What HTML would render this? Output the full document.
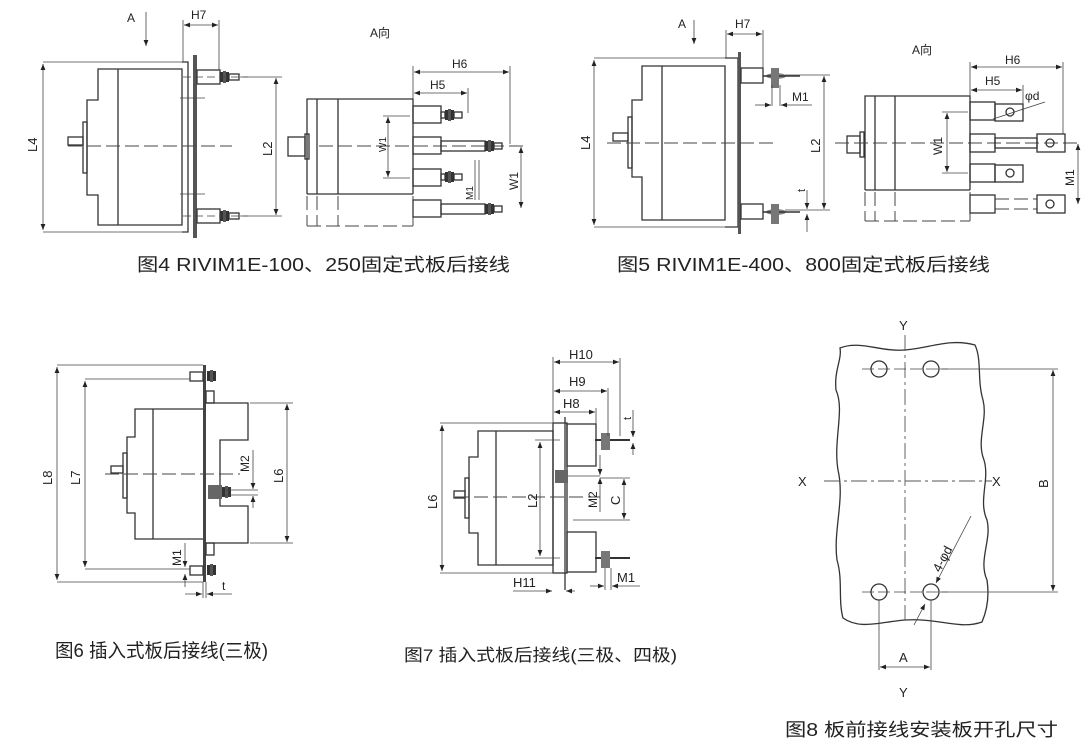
<!DOCTYPE html>
<html><head><meta charset="utf-8"><style>
html,body{margin:0;padding:0;background:#fff}
svg{display:block}
text{font-family:"Liberation Sans","Noto Sans CJK SC",sans-serif;fill:#222}
.l{stroke:#333;stroke-width:1.3;fill:none}
.t{stroke:#444;stroke-width:0.8;fill:none}
.d{stroke:#444;stroke-width:1;fill:none;stroke-dasharray:14 5}
.c{stroke:#555;stroke-width:0.9;fill:none;stroke-dasharray:16 4 3 4}
</style></head><body>
<svg width="1090" height="746" viewBox="0 0 1090 746" xmlns="http://www.w3.org/2000/svg">
<defs>
<marker id="a" viewBox="0 0 10 10" refX="10" refY="5" markerWidth="9" markerHeight="6" orient="auto-start-reverse" markerUnits="userSpaceOnUse"><path d="M0,1 L10,5 L0,9 z" fill="#222"/></marker>
<g id="nut"><rect x="0" y="-5" width="3" height="10" fill="#333"/><rect x="3" y="-6" width="3" height="12" fill="#555"/><rect x="6" y="-5" width="3" height="10" fill="#333"/></g>
</defs>

<!-- ================= FIG 4 left ================= -->
<text x="127" y="22" font-size="12">A</text>
<line x1="146" y1="12" x2="146" y2="46" class="t" marker-end="url(#a)"/>
<path class="l" d="M98,69 H182 V225 H98 V195 H87 V100 H98 Z"/>
<line class="l" x1="118" y1="69" x2="118" y2="225"/>
<rect class="l" x="83" y="122" width="4" height="51"/>
<rect class="l" x="68" y="137" width="15" height="8"/>
<path class="l" d="M182,62 H188 V232 H182"/>
<rect x="193" y="55" width="4" height="183" fill="#555"/>
<line class="d" x1="68" y1="146" x2="232" y2="146"/>
<rect class="l" x="197" y="70" width="23" height="14"/><use href="#nut" x="220" y="77"/><rect class="l" x="229" y="74" width="10" height="6"/>
<rect class="l" x="197" y="209" width="23" height="14"/><use href="#nut" x="220" y="216"/><rect class="l" x="229" y="213" width="10" height="6"/>
<line class="t" x1="183" y1="77" x2="248" y2="77" stroke-dasharray="8 4"/>
<line class="t" x1="183" y1="216" x2="248" y2="216" stroke-dasharray="8 4"/>
<line class="t" x1="180" y1="98" x2="205" y2="98"/><line class="t" x1="180" y1="194" x2="205" y2="194"/>
<line class="t" x1="43" y1="62" x2="182" y2="62"/><line class="t" x1="43" y1="232" x2="182" y2="232"/>
<line class="t" x1="43" y1="64" x2="43" y2="230" marker-start="url(#a)" marker-end="url(#a)"/>
<text x="0" y="0" font-size="13" transform="translate(37,152) rotate(-90)">L4</text>
<line class="t" x1="183" y1="20" x2="183" y2="62"/><line class="t" x1="219" y1="20" x2="219" y2="70"/>
<line class="t" x1="184" y1="25" x2="218" y2="25" marker-start="url(#a)" marker-end="url(#a)"/>
<text x="191" y="19" font-size="12">H7</text>
<line class="t" x1="240" y1="77" x2="282" y2="77"/><line class="t" x1="240" y1="216" x2="282" y2="216"/>
<line class="t" x1="276" y1="78" x2="276" y2="215" marker-start="url(#a)" marker-end="url(#a)"/>
<text x="0" y="0" font-size="13" transform="translate(272,156) rotate(-90)">L2</text>

<!-- FIG 4 right (A向) -->
<text x="370" y="37" font-size="12">A向</text>
<path class="l" d="M307,194 V99 H413 V194"/>
<line class="l" x1="307" y1="194" x2="413" y2="194"/>
<line class="l" x1="317" y1="99" x2="317" y2="194"/><line class="l" x1="338" y1="99" x2="338" y2="194"/>
<line class="d" x1="307" y1="196" x2="307" y2="226"/><line class="d" x1="317" y1="196" x2="317" y2="226"/><line class="d" x1="338" y1="196" x2="338" y2="226"/><line class="d" x1="413" y1="196" x2="413" y2="226"/>
<line class="d" x1="307" y1="226" x2="413" y2="226"/>
<rect class="l" x="288" y="137" width="17" height="19"/><rect class="l" x="305" y="134" width="4" height="25"/>
<line class="d" x1="319" y1="146" x2="528" y2="146"/>
<g>
<rect class="l" x="413" y="106" width="28" height="17"/><use href="#nut" x="445" y="115"/><rect class="l" x="441" y="112" width="4" height="6"/><rect class="l" x="454" y="112" width="8" height="6"/>
<rect class="l" x="413" y="137" width="28" height="17"/><rect class="l" x="441" y="141" width="44" height="10"/><use href="#nut" x="485" y="146"/><rect class="l" x="494" y="143" width="8" height="6"/>
<rect class="l" x="413" y="169" width="28" height="17"/><use href="#nut" x="445" y="177"/><rect class="l" x="441" y="174" width="4" height="6"/><rect class="l" x="454" y="174" width="8" height="6"/>
<rect class="l" x="413" y="200" width="28" height="17"/><rect class="l" x="441" y="204" width="44" height="10"/><use href="#nut" x="485" y="209"/><rect class="l" x="494" y="206" width="8" height="6"/>
</g>
<line class="t" x1="413" y1="66" x2="413" y2="99"/><line class="t" x1="510" y1="66" x2="510" y2="144"/><line class="t" x1="468" y1="88" x2="468" y2="113"/>
<line class="t" x1="414" y1="72" x2="509" y2="72" marker-start="url(#a)" marker-end="url(#a)"/>
<text x="452" y="68" font-size="12">H6</text>
<line class="t" x1="414" y1="93" x2="467" y2="93" marker-start="url(#a)" marker-end="url(#a)"/>
<text x="430" y="89" font-size="12">H5</text>
<line class="t" x1="383" y1="116" x2="410" y2="116"/><line class="t" x1="383" y1="178" x2="410" y2="178"/>
<line class="t" x1="388" y1="117" x2="388" y2="177" marker-start="url(#a)" marker-end="url(#a)"/>
<text x="0" y="0" font-size="10" transform="translate(386,152) rotate(-90)">W1</text>
<line class="t" x1="475" y1="160" x2="475" y2="200"/><line class="t" x1="479" y1="160" x2="479" y2="200"/>
<text x="0" y="0" font-size="10" transform="translate(473,200) rotate(-90)">M1</text>
<line class="t" x1="521" y1="147" x2="521" y2="208" marker-start="url(#a)" marker-end="url(#a)"/>
<text x="0" y="0" font-size="12" transform="translate(518,190) rotate(-90)">W1</text>
<text x="137" y="271" font-size="18" textLength="373" lengthAdjust="spacingAndGlyphs">图4 RIVIM1E-100、250固定式板后接线</text>

<!-- ================= FIG 5 left ================= -->
<text x="678" y="28" font-size="12">A</text>
<line x1="694" y1="20" x2="694" y2="44" class="t" marker-end="url(#a)"/>
<path class="l" d="M642,66 H725 V220 H642 V177 H632 V100 H642 Z"/>
<line class="l" x1="662" y1="66" x2="662" y2="220"/>
<rect class="l" x="628" y="117" width="4" height="51"/>
<rect class="l" x="613" y="133" width="15" height="8"/>
<path class="l" d="M725,58 H738 V227 H725"/>
<rect x="738" y="52" width="3" height="182" fill="#555"/>
<line class="d" x1="607" y1="143" x2="775" y2="143"/>
<rect class="l" x="741" y="68" width="22" height="15"/><rect class="l" x="741" y="204" width="22" height="15"/>
<ellipse cx="776" cy="76" rx="10" ry="3" fill="#888"/><line x1="763" y1="76" x2="800" y2="76" stroke="#333" stroke-width="1.5"/><rect x="771" y="68" width="8" height="20" fill="#777"/>
<ellipse cx="776" cy="212" rx="10" ry="3" fill="#888"/><line x1="763" y1="212" x2="800" y2="212" stroke="#333" stroke-width="1.5"/><rect x="771" y="204" width="8" height="20" fill="#777"/>
<line class="t" x1="594" y1="58" x2="725" y2="58"/><line class="t" x1="594" y1="227" x2="725" y2="227"/>
<line class="t" x1="594" y1="60" x2="594" y2="225" marker-start="url(#a)" marker-end="url(#a)"/>
<text x="0" y="0" font-size="13" transform="translate(590,150) rotate(-90)">L4</text>
<line class="t" x1="726" y1="30" x2="726" y2="58"/><line class="t" x1="763" y1="30" x2="763" y2="68"/>
<line class="t" x1="727" y1="34" x2="762" y2="34" marker-start="url(#a)" marker-end="url(#a)"/>
<text x="735" y="28" font-size="12">H7</text>
<line class="t" x1="785" y1="75" x2="830" y2="75"/><line class="t" x1="785" y1="210" x2="830" y2="210"/>
<line class="t" x1="824" y1="76" x2="824" y2="209" marker-start="url(#a)" marker-end="url(#a)"/>
<text x="0" y="0" font-size="13" transform="translate(820,153) rotate(-90)">L2</text>
<line class="t" x1="772" y1="85" x2="772" y2="106"/><line class="t" x1="780" y1="85" x2="780" y2="106"/>
<line class="t" x1="755" y1="105" x2="771" y2="105" marker-end="url(#a)"/><line class="t" x1="781" y1="105" x2="812" y2="105" marker-start="url(#a)"/>
<text x="792" y="101" font-size="12">M1</text>
<line class="t" x1="807" y1="190" x2="807" y2="209" marker-end="url(#a)"/><line class="t" x1="807" y1="214" x2="807" y2="232" marker-start="url(#a)"/>
<text x="0" y="0" font-size="11" transform="translate(805,192) rotate(-90)">t</text>

<!-- FIG 5 right -->
<text x="912" y="54" font-size="12">A向</text>
<path class="l" d="M865,190 V96 H970 V190"/>
<line class="l" x1="865" y1="190" x2="970" y2="190"/>
<line class="l" x1="875" y1="96" x2="875" y2="190"/><line class="l" x1="895" y1="96" x2="895" y2="190"/>
<line class="d" x1="865" y1="192" x2="865" y2="221"/><line class="d" x1="875" y1="192" x2="875" y2="221"/><line class="d" x1="895" y1="192" x2="895" y2="221"/><line class="d" x1="970" y1="192" x2="970" y2="221"/>
<line class="d" x1="865" y1="221" x2="970" y2="221"/>
<rect class="l" x="847" y="136" width="13" height="17"/><rect class="l" x="860" y="132" width="4" height="25"/>
<line class="d" x1="835" y1="143" x2="1080" y2="143"/>
<rect class="l" x="970" y="102" width="25" height="18"/><rect class="l" x="995" y="104" width="28" height="17"/><circle class="l" cx="1010" cy="112" r="4"/>
<rect class="l" x="970" y="134" width="25" height="18"/><rect class="l" x="995" y="138" width="42" height="10"/><rect class="l" x="1037" y="134" width="28" height="18"/><circle class="l" cx="1050" cy="143" r="4"/>
<rect class="l" x="970" y="164" width="25" height="18"/><rect class="l" x="995" y="165" width="28" height="17"/><circle class="l" cx="1010" cy="173" r="4"/>
<rect class="l" x="970" y="195" width="25" height="18"/><line class="d" x1="995" y1="199" x2="1037" y2="199"/><line class="d" x1="995" y1="209" x2="1037" y2="209"/><rect class="l" x="1037" y="195" width="28" height="18"/><circle class="l" cx="1050" cy="204" r="4"/>
<line class="t" x1="970" y1="62" x2="970" y2="96"/><line class="t" x1="1063" y1="62" x2="1063" y2="134"/><line class="t" x1="1023" y1="85" x2="1023" y2="104"/>
<line class="t" x1="971" y1="67" x2="1062" y2="67" marker-start="url(#a)" marker-end="url(#a)"/>
<text x="1005" y="64" font-size="12">H6</text>
<line class="t" x1="971" y1="90" x2="1022" y2="90" marker-start="url(#a)" marker-end="url(#a)"/>
<text x="985" y="85" font-size="12">H5</text>
<line class="t" x1="993" y1="119" x2="1045" y2="102"/><text x="1025" y="100" font-size="12">φd</text>
<line class="t" x1="942" y1="112" x2="968" y2="112"/><line class="t" x1="942" y1="173" x2="968" y2="173"/>
<line class="t" x1="947" y1="113" x2="947" y2="172" marker-start="url(#a)" marker-end="url(#a)"/>
<text x="0" y="0" font-size="12" transform="translate(942,155) rotate(-90)">W1</text>
<line class="t" x1="1078" y1="144" x2="1078" y2="204" marker-start="url(#a)" marker-end="url(#a)"/>
<text x="0" y="0" font-size="12" transform="translate(1074,186) rotate(-90)">M1</text>
<text x="617" y="271" font-size="18" textLength="373" lengthAdjust="spacingAndGlyphs">图5 RIVIM1E-400、800固定式板后接线</text>

<!-- ================= FIG 6 ================= -->
<path class="l" d="M135,409 H205 V539 H135 V513 H127 V437 H135 Z"/>
<line class="l" x1="153" y1="409" x2="153" y2="539"/>
<rect class="l" x="123" y="453" width="4" height="45"/>
<rect class="l" x="111" y="466" width="12" height="7"/>
<rect x="203" y="365" width="3" height="217" fill="#444"/>
<path class="l" d="M206,403 H248 V440 H220 V506 H248 V543 H206"/>
<rect class="l" x="206" y="391" width="8" height="12"/><rect class="l" x="206" y="543" width="8" height="12"/>
<rect class="l" x="190" y="372" width="13" height="9"/><use href="#nut" x="207" y="376"/>
<rect class="l" x="190" y="566" width="13" height="9"/><use href="#nut" x="207" y="570"/>
<rect x="208" y="485" width="14" height="14" fill="#666"/><use href="#nut" x="222" y="492"/>
<line class="d" x1="105" y1="474" x2="240" y2="474"/>
<line class="t" x1="57" y1="365" x2="203" y2="365"/><line class="t" x1="57" y1="582" x2="203" y2="582"/>
<line class="t" x1="57" y1="367" x2="57" y2="580" marker-start="url(#a)" marker-end="url(#a)"/>
<text x="0" y="0" font-size="13" transform="translate(52,485) rotate(-90)">L8</text>
<line class="t" x1="85" y1="379" x2="190" y2="379"/><line class="t" x1="85" y1="569" x2="190" y2="569"/>
<line class="t" x1="85" y1="381" x2="85" y2="567" marker-start="url(#a)" marker-end="url(#a)"/>
<text x="0" y="0" font-size="13" transform="translate(80,485) rotate(-90)">L7</text>
<line class="t" x1="250" y1="403" x2="293" y2="403"/><line class="t" x1="250" y1="543" x2="293" y2="543"/>
<line class="t" x1="287" y1="404" x2="287" y2="542" marker-start="url(#a)" marker-end="url(#a)"/>
<text x="0" y="0" font-size="13" transform="translate(283,483) rotate(-90)">L6</text>
<line class="t" x1="225" y1="490" x2="258" y2="490"/><line class="t" x1="225" y1="495" x2="258" y2="495"/>
<line class="t" x1="253" y1="450" x2="253" y2="489" marker-end="url(#a)"/><line class="t" x1="253" y1="496" x2="253" y2="508" marker-start="url(#a)"/>
<text x="0" y="0" font-size="12" transform="translate(249,472) rotate(-90)">M2</text>
<line class="t" x1="185" y1="543" x2="185" y2="567" marker-end="url(#a)"/><line class="t" x1="185" y1="574" x2="185" y2="587" marker-start="url(#a)"/>
<text x="0" y="0" font-size="12" transform="translate(181,566) rotate(-90)">M1</text>
<line class="t" x1="203" y1="582" x2="203" y2="598"/><line class="t" x1="206" y1="582" x2="206" y2="598"/>
<line class="t" x1="185" y1="594" x2="202" y2="594" marker-end="url(#a)"/><line class="t" x1="207" y1="594" x2="232" y2="594" marker-start="url(#a)"/>
<text x="222" y="590" font-size="12">t</text>
<text x="55" y="657" font-size="19" textLength="213" lengthAdjust="spacingAndGlyphs">图6 插入式板后接线(三极)</text>

<!-- ================= FIG 7 ================= -->
<path class="l" d="M478,431 H553 V565 H478 V533 H469 V457 H478 Z"/>
<line class="l" x1="496" y1="431" x2="496" y2="565"/>
<rect class="l" x="465" y="478" width="4" height="40"/>
<rect class="l" x="454" y="491" width="11" height="7"/>
<rect class="l" x="553" y="423" width="14" height="150"/>
<line class="l" x1="565" y1="417" x2="565" y2="590"/>
<rect class="l" x="567" y="424" width="29" height="42"/>
<rect class="l" x="567" y="532" width="29" height="40"/>
<line x1="595" y1="440" x2="630" y2="440" stroke="#333" stroke-width="2"/><rect x="601" y="433" width="9" height="17" fill="#777"/>
<line x1="595" y1="558" x2="630" y2="558" stroke="#333" stroke-width="2"/><rect x="601" y="551" width="9" height="17" fill="#777"/>
<rect x="555" y="470" width="13" height="13" fill="#666"/><line class="t" x1="568" y1="476" x2="600" y2="476"/>
<line class="d" x1="455" y1="497" x2="600" y2="497"/>
<line class="t" x1="440" y1="423" x2="553" y2="423"/><line class="t" x1="440" y1="573" x2="553" y2="573"/>
<line class="t" x1="442" y1="425" x2="442" y2="571" marker-start="url(#a)" marker-end="url(#a)"/>
<text x="0" y="0" font-size="13" transform="translate(437,509) rotate(-90)">L6</text>
<line class="t" x1="535" y1="440" x2="560" y2="440"/><line class="t" x1="535" y1="558" x2="560" y2="558"/>
<line class="t" x1="540" y1="442" x2="540" y2="556" marker-start="url(#a)" marker-end="url(#a)"/>
<text x="0" y="0" font-size="13" transform="translate(537,508) rotate(-90)">L2</text>
<line class="t" x1="553" y1="357" x2="553" y2="423"/>
<line class="t" x1="596" y1="408" x2="596" y2="424"/><line class="t" x1="608" y1="388" x2="608" y2="436"/><line class="t" x1="620" y1="358" x2="620" y2="436"/>
<line class="t" x1="554" y1="362" x2="619" y2="362" marker-start="url(#a)" marker-end="url(#a)"/><text x="569" y="359" font-size="13">H10</text>
<line class="t" x1="554" y1="391" x2="607" y2="391" marker-start="url(#a)" marker-end="url(#a)"/><text x="569" y="386" font-size="13">H9</text>
<line class="t" x1="554" y1="412" x2="595" y2="412" marker-start="url(#a)" marker-end="url(#a)"/><text x="563" y="408" font-size="13">H8</text>
<line class="t" x1="633" y1="410" x2="633" y2="437" marker-end="url(#a)"/><line class="t" x1="633" y1="443" x2="633" y2="455" marker-start="url(#a)"/>
<text x="0" y="0" font-size="11" transform="translate(631,420) rotate(-90)">t</text>
<line class="t" x1="600" y1="455" x2="600" y2="475" marker-end="url(#a)"/><line class="t" x1="600" y1="478" x2="600" y2="512" marker-start="url(#a)"/>
<text x="0" y="0" font-size="12" transform="translate(597,508) rotate(-90)">M2</text>
<line class="t" x1="600" y1="478" x2="630" y2="478"/><line class="t" x1="573" y1="520" x2="630" y2="520"/>
<line class="t" x1="624" y1="479" x2="624" y2="519" marker-start="url(#a)" marker-end="url(#a)"/>
<text x="0" y="0" font-size="13" transform="translate(620,505) rotate(-90)">C</text>
<line class="t" x1="513" y1="591" x2="552" y2="591" marker-end="url(#a)"/><line class="t" x1="566" y1="591" x2="575" y2="591" marker-start="url(#a)"/>
<text x="513" y="587" font-size="13">H11</text>
<line class="t" x1="605" y1="568" x2="605" y2="590"/><line class="t" x1="611" y1="568" x2="611" y2="590"/>
<line class="t" x1="590" y1="586" x2="604" y2="586" marker-end="url(#a)"/><line class="t" x1="612" y1="586" x2="640" y2="586" marker-start="url(#a)"/>
<text x="617" y="582" font-size="13">M1</text>
<text x="404" y="661" font-size="17" textLength="273" lengthAdjust="spacingAndGlyphs">图7 插入式板后接线(三极、四极)</text>

<!-- ================= FIG 8 ================= -->
<path class="l" d="M840,348 C860,340 880,352 905,350 C930,348 950,338 975,345 C982,360 977,380 983,400 C988,420 976,440 984,460 C990,480 978,500 987,520 C992,540 978,560 987,580 C990,600 985,615 982,622 C960,630 940,618 905,620 C880,622 860,630 843,618 C838,600 843,580 837,560 C833,530 845,500 838,470 C833,440 845,410 836,390 C834,370 842,360 840,348 Z"/>
<line class="c" x1="905" y1="335" x2="905" y2="620"/>
<line class="c" x1="824" y1="481" x2="992" y2="481"/>
<circle class="l" cx="879" cy="369" r="8"/><circle class="l" cx="931" cy="369" r="8"/>
<circle class="l" cx="879" cy="592" r="8"/><circle class="l" cx="931" cy="592" r="8"/>
<line class="t" x1="862" y1="369" x2="948" y2="369" stroke-dasharray="12 4"/>
<line class="t" x1="862" y1="592" x2="948" y2="592" stroke-dasharray="12 4"/>
<line class="t" x1="940" y1="369" x2="1058" y2="369"/><line class="t" x1="940" y1="592" x2="1058" y2="592"/>
<line class="t" x1="1053" y1="370" x2="1053" y2="591" marker-start="url(#a)" marker-end="url(#a)"/>
<text x="0" y="0" font-size="13" transform="translate(1048,488) rotate(-90)">B</text>
<line class="t" x1="879" y1="600" x2="879" y2="670"/><line class="t" x1="931" y1="600" x2="931" y2="670"/>
<line class="t" x1="880" y1="667" x2="930" y2="667" marker-start="url(#a)" marker-end="url(#a)"/>
<text x="899" y="662" font-size="13">A</text>
<line class="t" x1="971" y1="516" x2="936" y2="583" marker-end="url(#a)"/>
<line class="t" x1="914" y1="625" x2="925" y2="604" marker-end="url(#a)"/>
<text x="0" y="0" font-size="13" transform="translate(940,573) rotate(-62)">4-φd</text>
<text x="899" y="330" font-size="13">Y</text><text x="899" y="697" font-size="13">Y</text>
<text x="798" y="486" font-size="13">X</text><text x="992" y="486" font-size="13">X</text>
<text x="785" y="736" font-size="18" textLength="273" lengthAdjust="spacingAndGlyphs">图8 板前接线安装板开孔尺寸</text>
</svg>
</body></html>
